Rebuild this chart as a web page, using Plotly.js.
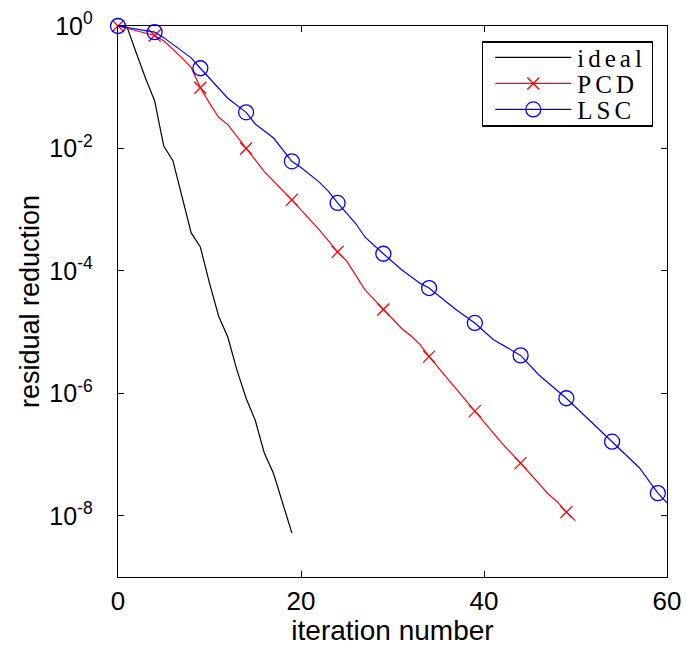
<!DOCTYPE html>
<html>
<head>
<meta charset="utf-8">
<script src="https://cdn.plot.ly/plotly-3.0.1.min.js"></script>
<style>
html,body{margin:0;padding:0;background:#fff;}
.legendtext{letter-spacing:4px;}
</style>
</head>
<body>
<div id="chart" style="width:686px;height:650px;"></div>
<script>
// Values, stored as log10(residual reduction)
var idealIter = [0,1,2,3,4,5,6,7,8,9,10,11,12,13,14,15,16,17,18,19];
var idealLog10 = [0,-0.02,-0.44,-0.85,-1.22,-1.96,-2.20,-2.79,-3.38,-3.61,-4.20,-4.74,-5.08,-5.62,-6.08,-6.44,-6.98,-7.31,-7.79,-8.28];

var pcdIter = [0,1,3,4,5,7,8,9,10,11,12,14,16,19,20,22,24,25,27,29,31,32,33,34,36,39,42,44,47,48,49,50];
var pcdLog10 = [0,-0.04,-0.11,-0.155,-0.24,-0.52,-0.68,-1.01,-1.26,-1.49,-1.61,-2.00,-2.38,-2.84,-3.00,-3.33,-3.69,-3.84,-4.31,-4.63,-4.94,-5.06,-5.20,-5.40,-5.76,-6.29,-6.82,-7.14,-7.64,-7.77,-7.94,-8.08];
var pcdMarkerIter = [0,4,9,14,19,24,29,34,39,44,49];

var lscIter = [0,2,4,5,7,8,9,11,12,14,15,17,19,20,21,22,23,24,26,27,29,31,33,34,36,37,39,41,44,46,49,50,52,54,57,59,60];
var lscLog10 = [0,-0.05,-0.10,-0.19,-0.42,-0.52,-0.69,-1.02,-1.18,-1.41,-1.60,-1.83,-2.21,-2.31,-2.43,-2.55,-2.70,-2.89,-3.23,-3.45,-3.72,-3.98,-4.20,-4.28,-4.52,-4.64,-4.85,-5.12,-5.38,-5.70,-6.08,-6.22,-6.50,-6.79,-7.22,-7.63,-7.79];
var lscMarkerIter = [0,4,9,14,19,24,29,34,39,44,49,54,59];

var xTickVals = [0,20,40,60];
var yTickExp = [0,-2,-4,-6,-8];
var seriesNames = ['ideal','PCD','LSC'];

function toVal(arr){ return arr.map(function(v){ return Math.pow(10, v); }); }
function markIdx(iters, marks){
  var out = [];
  iters.forEach(function(v,i){ if (marks.indexOf(v) >= 0) out.push(i); });
  return out;
}

var traces = [
  {
    x: idealIter, y: toVal(idealLog10), name: seriesNames[0],
    type: 'scatter', mode: 'lines',
    line: {color: '#000000', width: 1.2},
    cliponaxis: false
  },
  {
    x: pcdIter, y: toVal(pcdLog10), name: seriesNames[1],
    type: 'scatter', mode: 'lines+markers',
    line: {color: '#ff0000', width: 1.2},
    marker: {symbol: 'x-thin-open', size: 12, color: '#ff0000', line: {color: '#ff0000', width: 1.3}},
    selectedpoints: markIdx(pcdIter, pcdMarkerIter),
    selected: {marker: {opacity: 1}},
    unselected: {marker: {opacity: 0}},
    cliponaxis: false
  },
  {
    x: lscIter, y: toVal(lscLog10), name: seriesNames[2],
    type: 'scatter', mode: 'lines+markers',
    line: {color: '#0000ff', width: 1.2},
    marker: {symbol: 'circle-open', size: 15, color: '#0000ff', line: {color: '#0000ff', width: 1.3}},
    selectedpoints: markIdx(lscIter, lscMarkerIter),
    selected: {marker: {opacity: 1}},
    unselected: {marker: {opacity: 0}},
    cliponaxis: false
  }
];

var layout = {
  width: 686, height: 650,
  margin: {l: 118, r: 19, t: 26, b: 73},
  paper_bgcolor: '#ffffff', plot_bgcolor: '#ffffff',
  font: {family: 'Liberation Sans, Arial, sans-serif', size: 26, color: '#000'},
  showlegend: true,
  xaxis: {
    range: [0, 60],
    tickvals: xTickVals,
    ticktext: xTickVals.map(String),
    ticks: 'inside', ticklen: 6, tickwidth: 1, tickcolor: '#000',
    showline: true, linecolor: '#000', linewidth: 1.3, mirror: 'ticks',
    showgrid: false, zeroline: false,
    tickfont: {size: 26},
    title: {text: 'iteration number', font: {size: 28}, standoff: 2}
  },
  yaxis: {
    type: 'log',
    range: [-9, 0],
    tickvals: yTickExp.map(function(e){ return Math.pow(10, e); }),
    ticktext: yTickExp.map(function(e){ return '10<sup>' + e + '</sup>'; }),
    ticks: 'inside', ticklen: 6, tickwidth: 1, tickcolor: '#000',
    showline: true, linecolor: '#000', linewidth: 1.3, mirror: 'ticks',
    showgrid: false, zeroline: false,
    tickfont: {size: 25},
    ticklabelstandoff: 19,
    title: {text: 'residual reduction', font: {size: 27}, standoff: 2}
  },
  legend: {
    x: 0.9745, y: 0.972, xanchor: 'right', yanchor: 'top',
    bgcolor: '#ffffff', bordercolor: '#000', borderwidth: 1.3,
    font: {family: 'Liberation Serif, Times New Roman, serif', size: 25, color: '#000'},
    tracegroupgap: 0,
    itemwidth: 84
  }
};

Plotly.newPlot('chart', traces, layout, {displayModeBar: false, staticPlot: true}).then(function(gd){
  // legend styling to match the reference: longer sample lines, tighter rows
  var items = gd.querySelectorAll('.legend .traces');
  var rowGap = 26, firstY = 16;
  items.forEach(function(g, i){
    var ln = g.querySelector('.legendlines path');
    if (ln) ln.setAttribute('d', 'M12,0h76');
    var pts = g.querySelector('.legendpoints path');
    if (pts) pts.setAttribute('transform', 'translate(50,0)');
    var tr = g.getAttribute('transform') || '';
    var m = /translate\(\s*([-\d.]+)[ ,]+([-\d.]+)\s*\)/.exec(tr);
    var tx = m ? parseFloat(m[1]) : 1;
    g.setAttribute('transform', 'translate(' + tx + ',' + (firstY + rowGap * i) + ')');
  });
  var newH = firstY * 2 + rowGap * (items.length - 1);
  var bg = gd.querySelector('.legend rect.bg');
  if (bg) bg.setAttribute('height', newH);
});
</script>
</body>
</html>
